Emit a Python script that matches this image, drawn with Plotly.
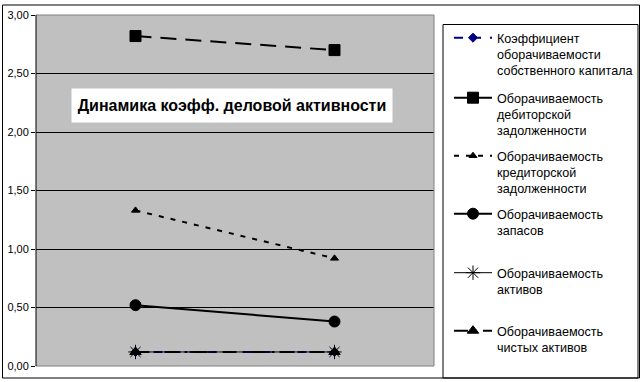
import plotly.graph_objects as go

periods = ["Период 1", "Период 2"]
names = [
    "Коэффициент<br>оборачиваемости<br>собственного капитала",
    "Оборачиваемость<br>дебиторской<br>задолженности",
    "Оборачиваемость<br>кредиторской<br>задолженности",
    "Оборачиваемость<br>запасов",
    "Оборачиваемость<br>активов",
    "Оборачиваемость<br>чистых активов",
]
equity_turnover = [0.12, 0.12]
receivables_turnover = [2.82, 2.70]
payables_turnover = [1.33, 0.92]
inventory_turnover = [0.52, 0.38]
assets_turnover = [0.12, 0.12]
net_assets_turnover = [0.12, 0.12]
y_ticks = [0, 0.5, 1.0, 1.5, 2.0, 2.5, 3.0]
title_text = "Динамика коэфф. деловой активности"

W, H = 644, 382
L, R, T, B = 36, 434, 15, 366
pw, ph = R - L, B - T

def px(x):
    return (x - L) / pw

def py(y):
    return (B - y) / ph

FONT = "Liberation Sans, Arial, sans-serif"

styles = [
    dict(values=equity_turnover, color="#000080", symbol="diamond", size=7, dash="dash", width=2),
    dict(values=receivables_turnover, color="black", symbol="square", size=11, dash="16px,9px", width=2),
    dict(values=payables_turnover, color="black", symbol="triangle-up", size=7, dash="5px,7px", width=2),
    dict(values=inventory_turnover, color="black", symbol="circle", size=11, dash="solid", width=2),
    dict(values=assets_turnover, color="black", symbol="asterisk-open", size=12, dash="solid", width=1),
    dict(values=net_assets_turnover, color="black", symbol="triangle-up", size=10, dash="14px,6px,3px,6px", width=2),
]

fig = go.Figure()
legend_tops = [23, 83, 141, 199, 258, 316]
layout_legends = {}
for i, (nm, st) in enumerate(zip(names, styles)):
    lname = "legend" if i == 0 else f"legend{i+1}"
    fig.add_trace(go.Scatter(
        x=periods, y=st["values"], name=nm, mode="lines+markers",
        line=dict(color=st["color"], width=st["width"], dash=st["dash"]),
        marker=dict(symbol=st["symbol"], size=st["size"], color=st["color"],
                    line=dict(color=st["color"], width=1)),
        legend=lname,
    ))
    layout_legends[lname] = dict(
        xref="container", yref="container",
        x=449 / W, y=1 - legend_tops[i] / H, xanchor="left", yanchor="top",
        bgcolor="rgba(0,0,0,0)", borderwidth=0, valign="top",
        itemwidth=38,
        font=dict(family=FONT, size=12.6, color="black"),
        tracegroupgap=0,
    )

shapes = [
    # outer chart border
    dict(type="rect", xref="paper", yref="paper", x0=px(2.5), x1=px(639.5), y0=py(378), y1=py(5),
         line=dict(color="black", width=1), layer="below"),
    # legend box
    dict(type="rect", xref="paper", yref="paper", x0=px(443), x1=px(638), y0=py(378), y1=py(24.5),
         line=dict(color="black", width=1), layer="below"),
    # plot area border (top, right, bottom) in gray
    dict(type="line", xref="paper", yref="paper", x0=0, x1=1, y0=1, y1=1,
         line=dict(color="#808080", width=1), layer="above"),
    dict(type="line", xref="paper", yref="paper", x0=1, x1=1, y0=0, y1=1,
         line=dict(color="#808080", width=1), layer="above"),
    dict(type="line", xref="paper", yref="paper", x0=0, x1=1, y0=0, y1=0,
         line=dict(color="#808080", width=1), layer="above"),
    dict(type="line", xref="paper", yref="paper", x0=0, x1=0, y0=0, y1=1,
         line=dict(color="black", width=1), layer="above"),
]

fig.update_layout(
    width=W, height=H,
    margin=dict(l=L, r=W - R, t=T, b=H - B, pad=0, autoexpand=False),
    paper_bgcolor="white", plot_bgcolor="#C0C0C0",
    separators=", ",
    font=dict(family=FONT, size=11, color="black"),
    showlegend=True,
    shapes=shapes,
    annotations=[dict(
        text="<b>" + title_text + "</b>", xref="paper", yref="paper",
        x=px(232), y=py(105.5), xanchor="center", yanchor="middle",
        showarrow=False, bgcolor="white", width=318, height=31,
        font=dict(family=FONT, size=16, color="black"),
    )],
    **layout_legends,
)
fig.update_xaxes(type="category", range=[-0.5, 1.5], showticklabels=False,
                 showgrid=False, zeroline=False, showline=False, ticks="")
fig.update_yaxes(range=[0, 3], tickvals=y_ticks, tickformat=".2f",
                 showgrid=True, gridcolor="black", gridwidth=1, zeroline=False,
                 showline=False, ticks="outside", ticklen=4, tickcolor="black",
                 automargin=False,
                 tickfont=dict(family=FONT, size=11, color="black"))

fig.write_html("out.html", config={"displayModeBar": False},
               post_script="document.body.style.margin='0';document.body.style.overflow='hidden';")
